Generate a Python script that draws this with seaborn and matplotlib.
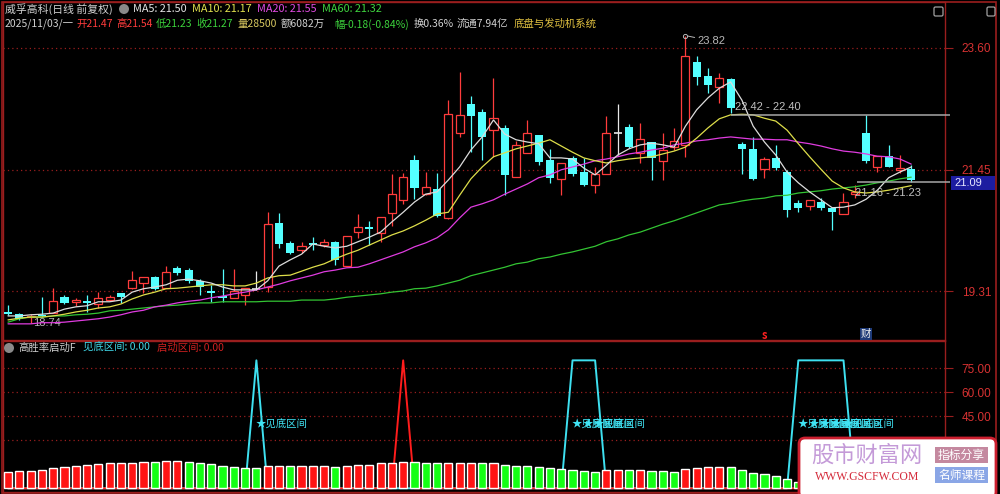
import numpy as np
import pandas as pd
import matplotlib
matplotlib.use("Agg")
import matplotlib.pyplot as plt
import seaborn as sns
from matplotlib.patches import Rectangle, FancyBboxPatch, Circle

# 日K线
opens = [18.94, 18.90, 18.85, 18.89, 18.92, 19.20, 19.12, 19.13, 19.08, 19.15,
         19.27, 19.36, 19.45, 19.56, 19.36, 19.72, 19.68, 19.49, 19.31, 19.22,
         19.19, 19.24, 19.35, 19.38, 20.51, 20.16, 20.03, 20.16, 20.12, 20.18,
         19.75, 20.35, 20.44, 20.33, 20.69, 20.92, 21.62, 21.02, 21.11, 20.60,
         22.10, 22.61, 22.47, 22.15, 22.19, 21.32, 21.75, 22.06, 21.62, 21.29,
         21.66, 21.41, 21.18, 21.38, 22.10, 22.21, 21.75, 21.94, 21.61, 21.85,
         21.89, 23.35, 23.11, 22.91, 23.05, 21.91, 21.82, 21.46, 21.66, 21.41,
         20.86, 20.81, 20.88, 20.78, 20.67, 21.02, 22.10, 21.50, 21.69, 21.45,
         21.47]
highs = [19.06, 18.93, 18.90, 19.20, 19.36, 19.24, 19.19, 19.24, 19.29, 19.24,
         19.27, 19.66, 19.56, 19.58, 19.75, 19.75, 19.72, 19.52, 19.42, 19.70,
         19.70, 19.36, 19.66, 20.70, 20.69, 20.19, 20.18, 20.26, 20.23, 20.19,
         20.28, 20.67, 20.55, 20.62, 21.38, 21.39, 21.71, 21.41, 21.39, 22.68,
         23.18, 22.75, 22.52, 23.07, 22.24, 21.96, 22.33, 22.06, 21.82, 21.57,
         21.69, 21.66, 21.50, 22.40, 22.61, 22.26, 22.28, 21.94, 22.10, 22.19,
         23.82, 23.46, 23.25, 23.16, 23.07, 21.94, 22.03, 21.68, 21.89, 21.45,
         20.92, 20.92, 20.95, 20.78, 21.04, 21.18, 22.42, 21.69, 21.89, 21.71,
         21.54]
lows = [18.89, 18.80, 18.74, 18.85, 18.92, 19.08, 19.05, 18.94, 19.01, 19.13,
        19.10, 19.35, 19.27, 19.33, 19.36, 19.59, 19.45, 19.24, 19.12, 19.12,
        19.19, 19.06, 19.33, 19.29, 20.07, 19.96, 19.98, 20.03, 20.09, 19.77,
        19.75, 20.25, 20.12, 20.18, 20.46, 20.85, 20.93, 21.00, 20.62, 20.58,
        22.03, 21.76, 21.62, 21.68, 21.00, 21.32, 21.75, 21.53, 21.22, 21.00,
        21.34, 21.16, 21.04, 21.38, 21.71, 21.83, 21.57, 21.27, 21.27, 21.80,
        21.68, 22.95, 22.81, 22.63, 22.45, 21.38, 21.27, 21.31, 21.45, 20.62,
        20.70, 20.74, 20.74, 20.39, 20.67, 20.95, 21.57, 21.41, 21.50, 21.39,
        21.23]
closes = [18.90, 18.82, 18.87, 18.87, 19.13, 19.10, 19.15, 19.10, 19.19, 19.20,
          19.20, 19.50, 19.56, 19.35, 19.65, 19.63, 19.49, 19.38, 19.27, 19.19,
          19.31, 19.36, 19.35, 20.49, 20.14, 19.98, 20.10, 20.12, 20.18, 19.86,
          20.28, 20.44, 20.40, 20.62, 21.02, 21.32, 21.13, 21.15, 20.63, 22.43,
          22.42, 22.40, 22.03, 22.36, 21.36, 21.89, 22.10, 21.59, 21.31, 21.57,
          21.38, 21.18, 21.38, 22.10, 22.10, 21.85, 21.99, 21.66, 21.80, 21.96,
          23.46, 23.09, 22.95, 23.07, 22.54, 21.82, 21.29, 21.64, 21.48, 20.74,
          20.78, 20.92, 20.78, 20.70, 20.88, 21.06, 21.61, 21.69, 21.50, 21.48,
          21.27]

ma5 = [18.87, 18.87, 18.89, 18.90, 18.92, 18.99, 19.03, 19.05, 19.12, 19.12,
       19.15, 19.29, 19.35, 19.38, 19.42, 19.50, 19.52, 19.49, 19.45, 19.38,
       19.33, 19.33, 19.33, 19.49, 19.75, 19.86, 19.96, 20.14, 20.10, 20.07,
       20.10, 20.18, 20.26, 20.35, 20.53, 20.70, 20.88, 21.02, 21.06, 21.27,
       21.50, 21.80, 22.03, 22.33, 22.08, 21.98, 21.94, 21.91, 21.66, 21.66,
       21.64, 21.48, 21.36, 21.53, 21.71, 21.82, 21.89, 21.92, 21.89, 21.85,
       22.22, 22.51, 22.72, 22.89, 23.00, 22.68, 22.22, 21.94, 21.71, 21.41,
       21.22, 21.06, 20.92, 20.78, 20.79, 20.83, 20.93, 21.09, 21.31, 21.41,
       21.50]
ma10 = [18.80, 18.83, 18.85, 18.85, 18.87, 18.90, 18.94, 18.97, 19.01, 19.03,
        19.08, 19.17, 19.24, 19.29, 19.35, 19.36, 19.38, 19.40, 19.42, 19.42,
        19.40, 19.40, 19.45, 19.54, 19.58, 19.59, 19.66, 19.73, 19.79, 19.88,
        19.96, 20.03, 20.12, 20.21, 20.30, 20.37, 20.46, 20.56, 20.67, 20.70,
        21.00, 21.29, 21.50, 21.68, 21.75, 21.82, 21.87, 21.92, 21.98, 21.87,
        21.76, 21.66, 21.61, 21.57, 21.61, 21.64, 21.66, 21.68, 21.73, 21.78,
        21.85, 22.01, 22.19, 22.35, 22.42, 22.43, 22.42, 22.36, 22.31, 22.15,
        21.91, 21.68, 21.46, 21.25, 21.13, 21.06, 21.04, 21.06, 21.09, 21.13,
        21.17]
ma20 = [18.73, 18.73, 18.73, 18.75, 18.75, 18.76, 18.78, 18.80, 18.82, 18.85,
        18.89, 18.94, 18.97, 19.03, 19.06, 19.10, 19.13, 19.15, 19.19, 19.22,
        19.26, 19.29, 19.33, 19.38, 19.43, 19.49, 19.54, 19.59, 19.65, 19.68,
        19.72, 19.73, 19.79, 19.86, 19.93, 20.00, 20.09, 20.16, 20.25, 20.39,
        20.60, 20.79, 20.85, 20.92, 21.02, 21.11, 21.20, 21.31, 21.36, 21.45,
        21.50, 21.55, 21.61, 21.64, 21.68, 21.73, 21.76, 21.80, 21.83, 21.89,
        21.92, 21.96, 21.98, 22.01, 22.03, 22.01, 21.99, 21.99, 21.98, 21.98,
        21.94, 21.91, 21.87, 21.82, 21.78, 21.76, 21.73, 21.69, 21.68, 21.64,
        21.55]
ma60 = [18.76, 18.82, 18.85, 18.85, 18.87, 18.87, 18.89, 18.90, 18.92, 18.96,
        18.97, 18.99, 19.01, 19.03, 19.05, 19.06, 19.08, 19.10, 19.10, 19.12,
        19.12, 19.12, 19.12, 19.13, 19.13, 19.13, 19.15, 19.15, 19.15, 19.17,
        19.20, 19.22, 19.24, 19.26, 19.29, 19.31, 19.35, 19.36, 19.40, 19.45,
        19.50, 19.58, 19.63, 19.68, 19.73, 19.79, 19.82, 19.88, 19.91, 19.96,
        20.00, 20.05, 20.10, 20.18, 20.23, 20.30, 20.35, 20.42, 20.49, 20.55,
        20.62, 20.69, 20.76, 20.83, 20.86, 20.90, 20.93, 20.95, 20.99, 21.00,
        21.04, 21.06, 21.08, 21.11, 21.13, 21.15, 21.18, 21.22, 21.25, 21.29,
        21.32]

# 副图: 高胜率启动F
power = [10.4, 11.0, 11.0, 11.5, 12.9, 13.5, 14.0, 14.6, 15.0, 15.6,
         15.6, 16.0, 16.7, 16.7, 17.3, 17.1, 16.7, 16.0, 15.0, 14.0,
         13.5, 12.9, 12.9, 14.0, 14.0, 14.0, 14.0, 14.0, 14.0, 13.5,
         14.0, 14.6, 14.6, 15.6, 15.6, 16.7, 16.7, 16.0, 15.6, 16.0,
         16.0, 16.0, 16.0, 16.0, 14.6, 14.2, 14.2, 13.5, 12.7, 12.1,
         11.5, 10.8, 10.4, 11.5, 11.5, 11.5, 11.5, 10.8, 10.8, 10.2,
         12.1, 12.5, 13.1, 13.5, 13.1, 11.5, 9.8, 8.8, 7.7, 5.6,
         4.2, 3.5, 3.0, 2.8, 2.5, 3.2, 3.8, 4.5, 4.6, 4.8,
         4.6]
power_tone = list("rrrrrrrrrr" "rrrgrrgggg" "gggrrgrrrg" "rrrrrrgggr"
                  "rrgrgggggg" "gggrrgrggg" "rrrrgggggg" "ggggrrrgrg" "g")
bottom_zone = [0, 0, 0, 0, 0, 0, 0, 0, 0, 0,
               0, 0, 0, 0, 0, 0, 0, 0, 0, 0,
               0, 0, 80, 0, 0, 0, 0, 0, 0, 0,
               0, 0, 0, 0, 0, 0, 0, 0, 0, 0,
               0, 0, 0, 0, 0, 0, 0, 0, 0, 0,
               80, 80, 80, 0, 0, 0, 0, 0, 0, 0,
               0, 0, 0, 0, 0, 0, 0, 0, 0, 0,
               80, 80, 80, 80, 80, 0, 0, 0, 0, 0,
               0]
start_zone = [0, 0, 0, 0, 0, 0, 0, 0, 0, 0,
              0, 0, 0, 0, 0, 0, 0, 0, 0, 0,
              0, 0, 0, 0, 0, 0, 0, 0, 0, 0,
              0, 0, 0, 0, 0, 80, 0, 0, 0, 0,
              0, 0, 0, 0, 0, 0, 0, 0, 0, 0,
              0, 0, 0, 0, 0, 0, 0, 0, 0, 0,
              0, 0, 0, 0, 0, 0, 0, 0, 0, 0,
              0, 0, 0, 0, 0, 0, 0, 0, 0, 0,
              0]

price_ticks = [19.31, 21.45, 23.60]
sub_ticks = [45, 60, 75]

RED = '#ff3c3c'
CYAN = '#54ffff'
AXRED = '#9a1e1e'
W, H = 1000, 494

sns.set_theme(style="dark", rc={
    'axes.facecolor': 'black', 'figure.facecolor': 'black',
    'axes.edgecolor': AXRED, 'axes.linewidth': 1.0,
})
plt.rcParams['font.family'] = ['Noto Sans CJK SC', 'DejaVu Sans']

fig = plt.figure(figsize=(10, 4.94), dpi=100)


def px(x0, y0, x1, y1):
    return [x0 / W, 1 - y1 / H, (x1 - x0) / W, (y1 - y0) / H]


ax = fig.add_axes(px(3, 2, 945, 340))
ax2 = fig.add_axes(px(3, 341, 945, 492))

n = len(closes)
idx = np.arange(n)
o, h, l, c = map(np.array, (opens, highs, lows, closes))
up, down, flat = c > o, c < o, c == o

# K线
ax.vlines(idx[up], l[up], h[up], color=RED, lw=0.9, zorder=2)
ax.bar(idx[up], (c - o)[up], bottom=o[up], width=0.72, facecolor='black',
       edgecolor=RED, linewidth=0.9, zorder=3)
ax.vlines(idx[down], l[down], h[down], color=CYAN, lw=0.9, zorder=2)
ax.bar(idx[down], (o - c)[down], bottom=c[down], width=0.72, color=CYAN,
       linewidth=0, zorder=3)
ax.vlines(idx[flat], l[flat], h[flat], color='#e8e8e8', lw=0.9, zorder=2)
ax.hlines(o[flat], idx[flat] - 0.36, idx[flat] + 0.36, color='#e8e8e8', lw=1.2, zorder=3)

# 均线
df = pd.DataFrame({'idx': idx, 'MA5': ma5, 'MA10': ma10, 'MA20': ma20, 'MA60': ma60})
for col, colr in [('MA60', '#33c433'), ('MA20', '#e03ce0'),
                  ('MA10', '#dede4a'), ('MA5', '#dcdcdc')]:
    sns.lineplot(data=df, x='idx', y=col, color=colr, lw=0.9, ax=ax,
                 estimator=None, zorder=4)

# 标注
ax.annotate('23.82', xy=(int(np.argmax(h)), h.max()), xytext=(9, -4),
            textcoords='offset points', color='#b8b8b8', fontsize=8, va='center',
            family='Liberation Sans',
            arrowprops=dict(arrowstyle='-', color='#b8b8b8', lw=0.7, shrinkA=0, shrinkB=2))
ax.plot(int(np.argmax(h)), h.max(), 'o', ms=3, mfc='none', mec='#b8b8b8', mew=0.7, zorder=5)
ax.annotate('18.74', xy=(int(np.argmin(l)), l.min()), xytext=(1.5, 0),
            textcoords='offset points', color='#b8b8b8', fontsize=8, va='center',
            family='Liberation Sans')
ax.hlines(22.42, 64, 83.4, color='#a8a8a8', lw=1.1, clip_on=False, zorder=5)
ax.text(64.4, 22.56, '22.42 - 22.40', color='#c0c0c0', fontsize=8, va='center',
        family='Liberation Sans', zorder=6)
ax.hlines(21.23, 75.2, 83.4, color='#a8a8a8', lw=1.1, clip_on=False, zorder=5)
ax.text(75.0, 21.04, '21.16 - 21.23', color='#c0c0c0', fontsize=8, va='center',
        family='Liberation Sans', zorder=6)
ax.text(67, 18.53, 's', color='#ff2020', fontsize=8, fontweight='bold', ha='center',
        va='center', zorder=6)
ax.text(76, 18.55, '财', color='#f0f0f0', fontsize=7.5, ha='center', va='center',
        zorder=6, bbox=dict(boxstyle='square,pad=0.1', fc='#1e3a78', ec='none'))

ax.set_xlim(-0.443, 82.99)
ax.set_ylim(18.445, 24.412)
ax.set_xticks([])
ax.set_xlabel('')
ax.set_ylabel('')
ax.yaxis.tick_right()
ax.set_yticks(price_ticks)
ax.set_yticklabels([f'{v:.2f}' for v in price_ticks], family='Liberation Sans')
ax.tick_params(axis='y', length=6, width=0.8, color=AXRED, labelcolor='#d83232',
               labelsize=8.5, pad=6)
ax.grid(axis='y', color=AXRED, linestyle=(0, (1, 2.5)), lw=0.9)
ax.grid(axis='x', visible=False)

# 副图
dfb = pd.DataFrame({'idx': idx, 'power': power, 'tone': power_tone,
                    'bottom': bottom_zone, 'start': start_zone})
sns.lineplot(data=dfb, x='idx', y='bottom', color='#3ee0f0', lw=1.4, ax=ax2,
             estimator=None, zorder=1)
sns.lineplot(data=dfb, x='idx', y='start', color='#ff1c1c', lw=1.4, ax=ax2,
             estimator=None, zorder=1)
sns.barplot(data=dfb, x='idx', y='power', hue='tone',
            palette={'r': '#ff1414', 'g': '#14ff14'}, dodge=False, width=0.72,
            saturation=1, legend=False, errorbar=None, ax=ax2, zorder=3)
for i in idx[np.array(bottom_zone) > 0]:
    ax2.text(i - 0.1, 40, '★见底区间', color='#40e4f4', fontsize=7.5, va='center',
             ha='left', zorder=5)

ax2.set_xlim(-0.443, 82.99)
ax2.set_ylim(-2.3, 92.1)
ax2.set_xticks([])
ax2.set_xlabel('')
ax2.set_ylabel('')
ax2.yaxis.tick_right()
ax2.set_yticks(sub_ticks)
ax2.set_yticklabels([f'{v:.2f}' for v in sub_ticks], family='Liberation Sans')
ax2.tick_params(axis='y', length=6, width=0.8, color=AXRED, labelcolor='#d83232',
                labelsize=8.5, pad=6)
ax2.set_yticks([30], minor=True)
ax2.grid(axis='y', which='both', color=AXRED, linestyle=(0, (1, 2.5)), lw=0.9)
ax2.grid(axis='x', visible=False)

# 顶部信息栏
GREEN = '#3cd23c'
line1 = [('威孚高科(日线 前复权)', 5, '#d0d0d0'), ('MA5: 21.50', 133, '#e6e6e6'),
         ('MA10: 21.17', 192, '#e3e34f'), ('MA20: 21.55', 257, '#e24ae2'),
         ('MA60: 21.32', 322, '#3fd43f')]
line2 = [('2025/11/03/一', 5, '#d0d0d0'), ('开21.47', 76, '#ff3c3c'),
         ('高21.54', 116, '#ff3c3c'), ('低21.23', 156, GREEN), ('收21.27', 196, GREEN),
         ('量28500', 237, '#d8c860'), ('额6082万', 281, '#d0d0d0'),
         ('幅-0.18(-0.84%)', 334, GREEN), ('换0.36%', 414, '#d0d0d0'),
         ('流通7.94亿', 457, '#d0d0d0'), ('底盘与发动机系统', 514, '#e0c040')]
for s, x, colr in line1:
    fig.text(x / W, 1 - 9 / H, s, color=colr, fontsize=7.8, va='center', ha='left')
for s, x, colr in line2:
    fig.text(x / W, 1 - 24 / H, s, color=colr, fontsize=7.5, va='center', ha='left')
sub_title = [('高胜率启动F', 18, '#d0d0d0'), ('见底区间: 0.00', 83, '#40d8e8'),
             ('启动区间: 0.00', 157, '#d02020')]
for s, x, colr in sub_title:
    fig.text(x / W, 1 - 348 / H, s, color=colr, fontsize=7.5, va='center', ha='left')

# 外框与装饰
ov = fig.add_axes([0, 0, 1, 1], zorder=10)
ov.set_xlim(0, W)
ov.set_ylim(H, 0)
ov.axis('off')
ov.patch.set_alpha(0)
ov.add_patch(Rectangle((1.5, 2), 994.5, 490.5, fill=False, ec=AXRED, lw=1.2))
ov.add_patch(Circle((124, 9), 5, fc='#8a8a8a', ec='none'))
ov.add_patch(Circle((9, 348), 5, fc='#8a8a8a', ec='none'))
ov.add_patch(FancyBboxPatch((934, 7), 9, 9, boxstyle='round,pad=0,rounding_size=1.5',
                            fill=False, ec='#a0a0a0', lw=0.9))
ov.add_patch(FancyBboxPatch((987, 7), 8, 9, boxstyle='round,pad=0,rounding_size=1.5',
                            fill=False, ec='#a0a0a0', lw=0.9))
# 当前价标签
ov.add_patch(Rectangle((951, 176), 44, 14, fc='#1c1ca0', ec='none'))
ov.text(954, 183, '21.09', color='#e6e6ff', fontsize=8, va='center', ha='left',
        family='Liberation Sans')

# 水印
ov.add_patch(FancyBboxPatch((799, 438), 197, 60, boxstyle='round,pad=0,rounding_size=6',
                            fc='white', ec='#cc1f2f', lw=2))
ov.text(867, 455, '股市财富网', color='#c49ad8', fontsize=16, ha='center', va='center',
        fontweight='light')
ov.text(867, 477, 'WWW.GSCFW.COM', color='#d42a3a', fontsize=8.5, ha='center',
        va='center', family='Liberation Serif')
ov.add_patch(Rectangle((935, 447), 53, 16, fc='#c4889f', ec='none'))
ov.text(961.5, 455, '指标分享', color='white', fontsize=8.5, ha='center', va='center')
ov.add_patch(Rectangle((935, 467), 53, 16, fc='#8aa6e6', ec='none'))
ov.text(961.5, 475, '名师课程', color='white', fontsize=8.5, ha='center', va='center')

fig.savefig('out.png', dpi=100, facecolor='black')
